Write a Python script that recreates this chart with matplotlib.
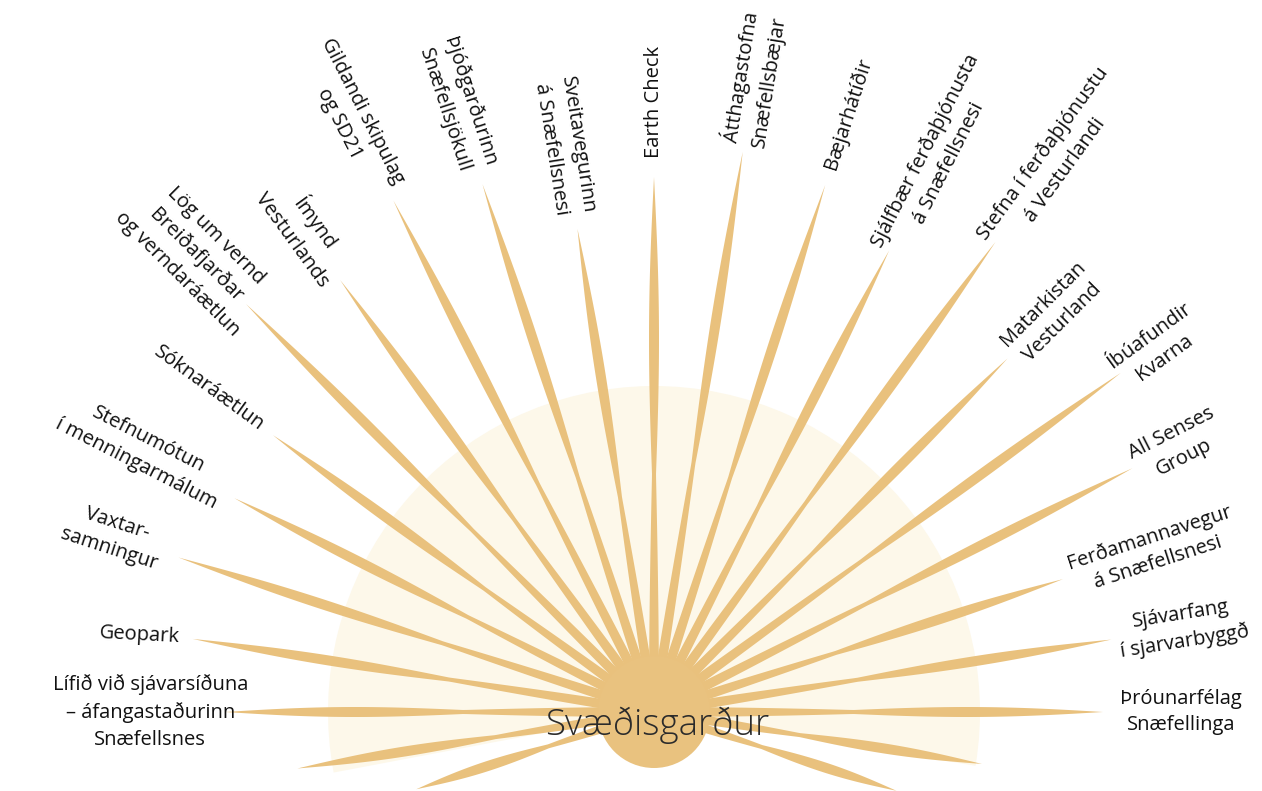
import matplotlib.pyplot as plt
import numpy as np
from matplotlib.patches import Circle, Polygon, Wedge

# ray angles (degrees, 0 = pointing right, 90 = up) and ray lengths in px
angles = [90, 81, 72, 63, 54, 45, 36, 27, 18, 9, 0, -9, -18,
          99, 108, 117, 126, 135, 144, 153, 162, 171, 180, 189, 198]
lengths = [535, 567, 554, 518, 581, 500, 577, 537, 430, 463, 449, 332, 255,
           489, 555, 574, 534, 577, 471, 471, 500, 467, 429, 361, 250]
labels = [
    "Earth Check",
    "Átthagastofna\nSnæfellsbæjar",
    "Bæjarhátíðir",
    "Sjálfbær ferðaþjónusta\ná Snæfellsnesi",
    "Stefna í ferðaþjónustu\ná Vesturlandi",
    "Matarkistan\nVesturland",
    "Íbúafundir\nKvarna",
    "All Senses\nGroup",
    "Ferðamannavegur\ná Snæfellsnesi",
    "Sjávarfang\ní sjarvarbyggð",
    "Þróunarfélag\nSnæfellinga",
    "",
    "",
    "Sveitavegurinn\ná Snæfellsnesi",
    "Þjóðgarðurinn\nSnæfellsjökull",
    "Gildandi skipulag\nog SD21",
    "Ímynd\nVesturlands",
    "Lög um vernd\nBreiðafjarðar\nog verndaráætlun",
    "Sóknaráætlun",
    "Stefnumótun\ní menningarmálum",
    "Vaxtar-\nsamningur",
    "Geopark",
    "Lífið við sjávarsíðuna\n– áfangastaðurinn\nSnæfellsnes",
    "",
    "",
]
center_label = "Svæðisgarður"

# layout: distance from ray tip to the near edge of each label
label_pad = [19, 7, 17, -2, -5, 8, -5, 4, 9, 7, 17, 0, 0,
             14, 15, 13, 5, -14, 13, 14, 18, 13, -23, 0, 0]
rotation_override = {"Geopark": -3}

W, H = 1262, 791
cx, cy = 654, 712
hub_r = 56
glow_r = 326
ray_color = "#E9C17D"
hub_color = "#E9C27F"
glow_color = "#FDF8EA"

plt.rcParams["font.family"] = ["Open Sans", "DejaVu Sans"]


def ray_polygon(angle, length, w_in=10.0, w_out=10.0, n=120):
    """Spindle shaped ray: a lobe at the hub and a second lobe further out."""
    t = np.linspace(0, 1, n)
    inner = np.where(t < 0.6, w_in * np.cos(np.pi / 2 * np.clip(t / 0.6, 0, 1)), 0)
    s = np.clip((t - 0.33) / 0.67, 0, 1)
    outer = np.where(t > 0.33, w_out * np.sin(np.pi * s ** 1.15), 0)
    half = np.maximum(inner, outer) / 2
    a = np.radians(angle)
    ux, uy = np.cos(a), -np.sin(a)  # y axis runs downward
    px, py = -uy, ux
    r = t * length
    left = np.column_stack([cx + r * ux + half * px, cy + r * uy + half * py])
    right = np.column_stack([cx + r * ux - half * px, cy + r * uy - half * py])
    return np.vstack([left, right[::-1]])


fig = plt.figure(figsize=(W / 100, H / 100), dpi=100)
ax = fig.add_axes([0, 0, 1, 1])
ax.set_xlim(0, W)
ax.set_ylim(H, 0)
ax.axis("off")

# pale glow behind the rays (y axis inverted, so angles are mirrored)
ax.add_patch(Wedge((cx, cy), glow_r, -190.7, 9.5, facecolor=glow_color,
                   edgecolor="none", zorder=1))

for ang, L in zip(angles, lengths):
    ax.add_patch(Polygon(ray_polygon(ang, L), closed=True, facecolor=ray_color,
                         edgecolor="none", zorder=2))

ax.add_patch(Circle((cx, cy), hub_r, facecolor=hub_color, edgecolor="none", zorder=3))
ax.text(cx + 3, cy + 23, center_label, fontsize=26.5, color="#2b2b2b",
        ha="center", va="baseline", fontweight="light", zorder=5)

for ang, L, text, pad in zip(angles, lengths, labels, label_pad):
    if not text:
        continue
    a = np.radians(ang)
    ux, uy = np.cos(a), -np.sin(a)
    x = cx + (L + pad) * ux
    y = cy + (L + pad) * uy
    if -90 < ang <= 90:
        rot, ha = ang, "left"
    else:
        rot, ha = ang - 180, "right"
    rot = rotation_override.get(text, rot)
    ax.text(x, y, text, fontsize=14.5, color="#111111", rotation=rot,
            rotation_mode="anchor", ha=ha, va="center", multialignment="center",
            linespacing=1.45, zorder=6)

fig.savefig("out.png", dpi=100)
